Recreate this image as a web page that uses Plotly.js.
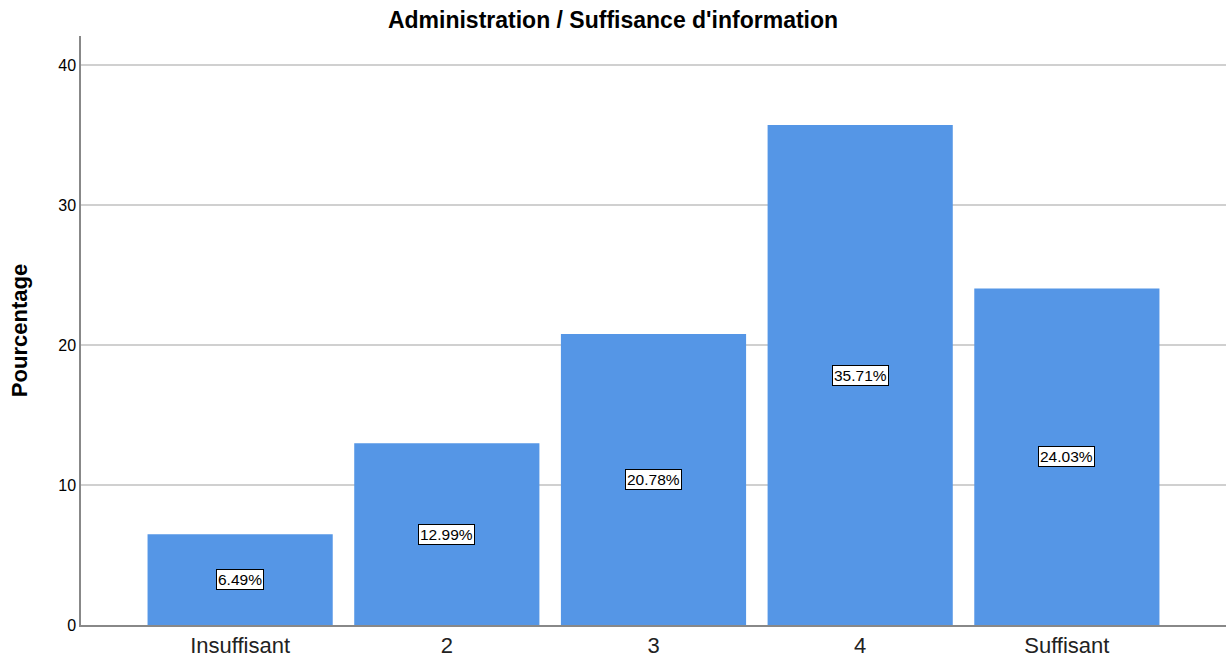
<script src="https://cdn.plot.ly/plotly-3.0.1.min.js"></script>
<style>body { margin: 0; }</style>
<div id="chart" style="width:1226px;height:661px;"></div>
<script>
  const categories = ['Insuffisant', '2', '3', '4', 'Suffisant'];
  const percents = [6.49, 12.99, 20.78, 35.71, 24.03];
  const labels = ['6.49%', '12.99%', '20.78%', '35.71%', '24.03%'];

  const trace = {
    x: categories,
    y: percents,
    type: 'bar',
    marker: { color: '#5596e6' },
    hoverinfo: 'x+y'
  };

  // labels sit in the middle of each bar, in a small white box
  // (x given as category index, '2' would be read as a position otherwise)
  const notes = categories.map((c, i) => ({
    x: i,
    y: percents[i] / 2,
    text: labels[i],
    showarrow: false,
    bgcolor: 'white',
    bordercolor: 'black',
    borderwidth: 1,
    borderpad: 1,
    font: { family: 'Arial, Liberation Sans', size: 15.5, color: 'black' }
  }));

  Plotly.newPlot('chart', [trace], {
    width: 1226,
    height: 661,
    margin: { l: 81, r: 0, t: 36, b: 36 },
    bargap: 0.104,
    paper_bgcolor: 'white',
    plot_bgcolor: 'white',
    font: { family: 'Arial, Liberation Sans', color: 'black' },
    title: {
      text: "<b>Administration / Suffisance d'information</b>",
      x: 0.5, xanchor: 'center', y: 0.97, yanchor: 'middle',
      font: { size: 23 }
    },
    xaxis: {
      type: 'category',
      range: [-0.77, 4.77],
      showline: true,
      linecolor: '#888',
      linewidth: 1.5,
      ticks: '',
      tickfont: { size: 22, color: '#222' },
      fixedrange: true
    },
    yaxis: {
      range: [0, 42.07],
      tickvals: [0, 10, 20, 30, 40],
      showline: true,
      linecolor: '#888',
      linewidth: 1.5,
      gridcolor: '#d0d0d0',
      gridwidth: 1.5,
      zeroline: false,
      ticks: '',
      ticklen: 0,
      tickfont: { size: 16 },
      automargin: false,
      title: { text: '<b>Pourcentage</b>', font: { size: 22 } }
    },
    annotations: notes,
    showlegend: false
  }, { displayModeBar: false });
</script>
